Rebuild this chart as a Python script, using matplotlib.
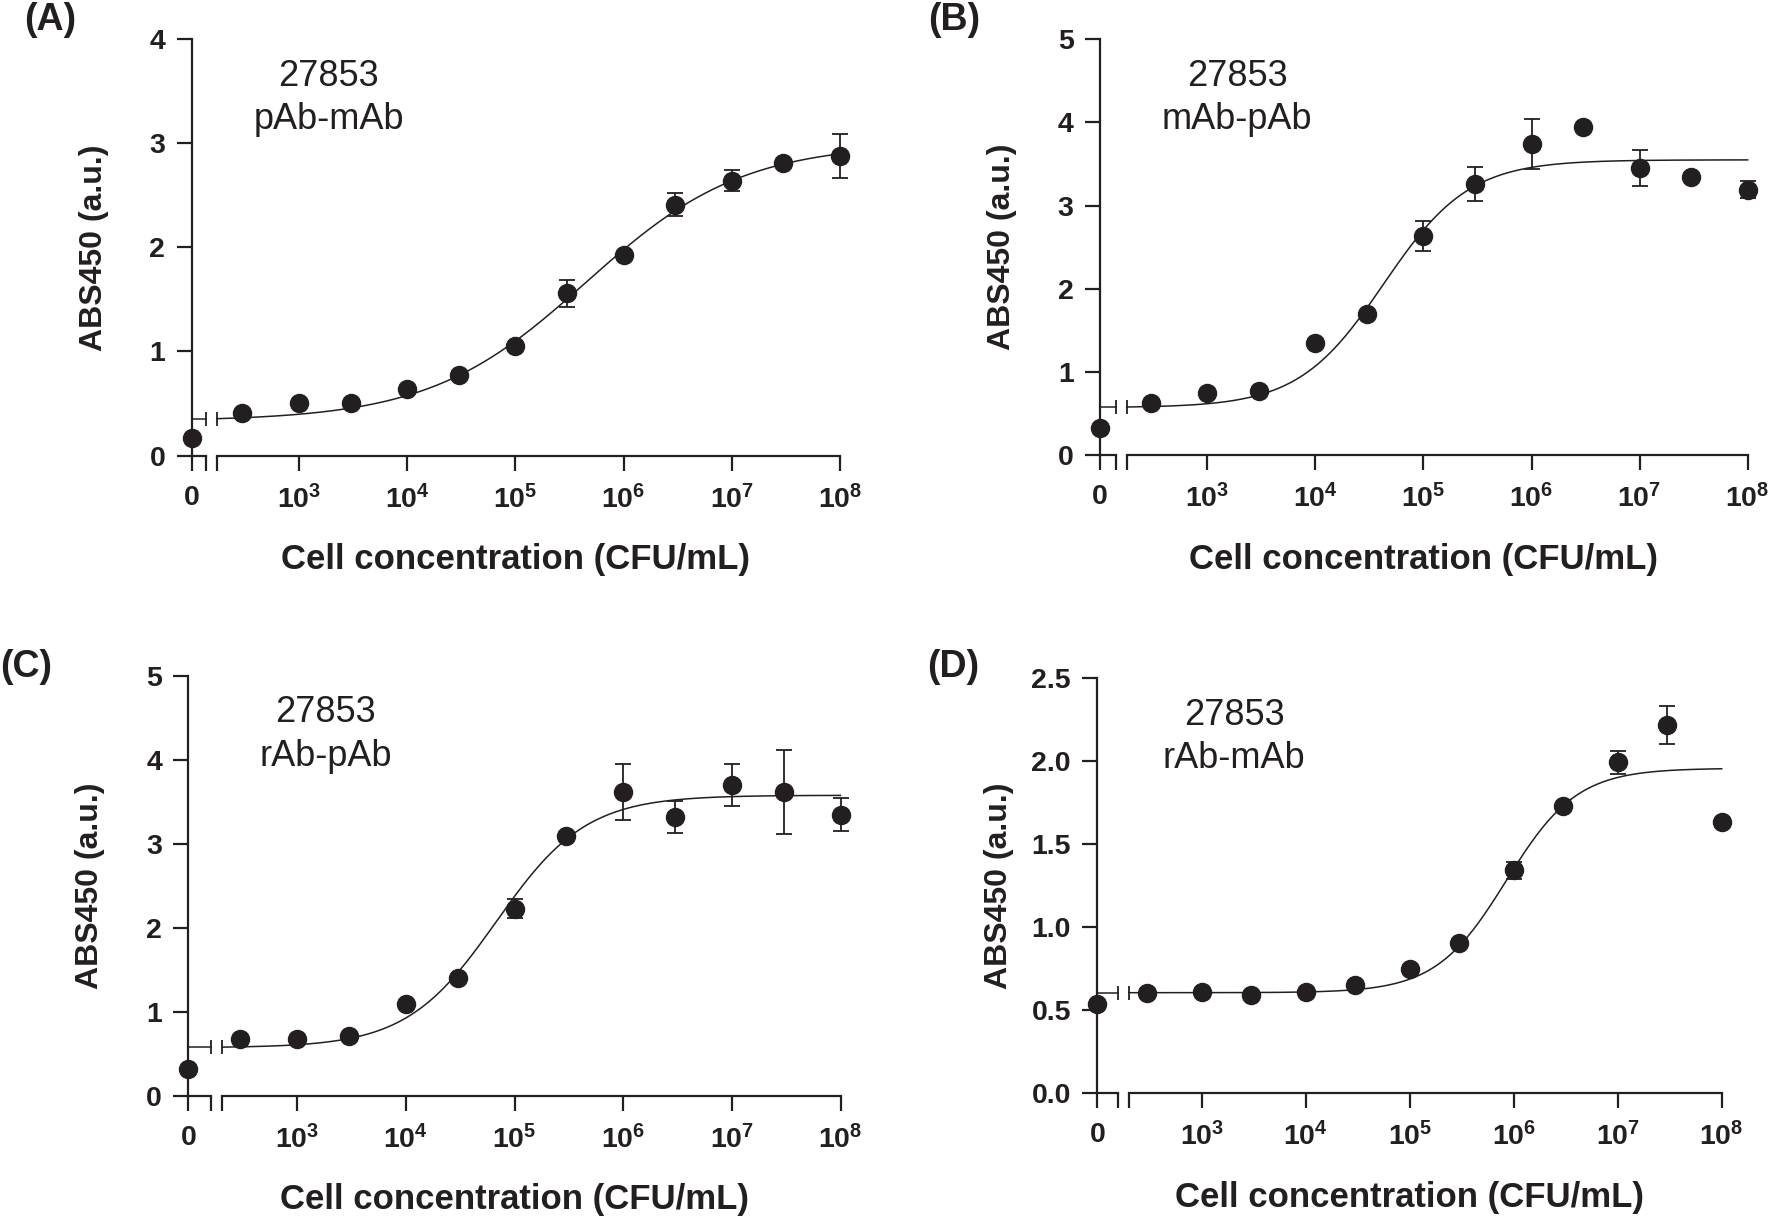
import numpy as np
import matplotlib
matplotlib.use("Agg")
import matplotlib.pyplot as plt
from matplotlib.ticker import NullLocator

plt.rcParams["font.family"] = ["Liberation Sans", "DejaVu Sans"]
plt.rcParams["mathtext.fontset"] = "custom"
plt.rcParams["mathtext.rm"] = "Liberation Sans:bold"
plt.rcParams["mathtext.it"] = "Liberation Sans:bold"
plt.rcParams["mathtext.bf"] = "Liberation Sans:bold"

W, H = 1776, 1216
INK = "#231f20"

# cell concentrations (CFU/mL) of the log-axis points; the blank (0) is kept apart
conc = [3e2, 1e3, 3e3, 1e4, 3e4, 1e5, 3e5, 1e6, 3e6, 1e7, 3e7, 1e8]
xtick_exp = [3, 4, 5, 6, 7, 8]

# (A) pAb-mAb
a_blank = 0.17
a_abs = [0.41, 0.50, 0.50, 0.64, 0.77, 1.05, 1.56, 1.93, 2.41, 2.64, 2.81, 2.88]
a_err = [0, 0, 0, 0, 0, 0, 0.13, 0, 0.11, 0.10, 0, 0.21]
a_fit = (0.33, 3.00, 4.5e5, 0.60)  # bottom, top, EC50, hill slope

# (B) mAb-pAb
b_blank = 0.33
b_abs = [0.63, 0.75, 0.77, 1.35, 1.69, 2.63, 3.26, 3.74, 3.94, 3.45, 3.34, 3.19]
b_err = [0, 0, 0, 0, 0, 0.18, 0.20, 0.30, 0, 0.22, 0, 0.10]
b_fit = (0.57, 3.55, 4.3e4, 1.10)

# (C) rAb-pAb
c_blank = 0.32
c_abs = [0.68, 0.68, 0.71, 1.10, 1.41, 2.23, 3.10, 3.62, 3.32, 3.70, 3.62, 3.35]
c_err = [0, 0, 0, 0, 0, 0.11, 0, 0.33, 0.19, 0.25, 0.50, 0.20]
c_fit = (0.575, 3.58, 6.8e4, 1.05)

# (D) rAb-mAb
d_blank = 0.54
d_abs = [0.606, 0.612, 0.592, 0.608, 0.652, 0.749, 0.904, 1.343, 1.731, 1.994, 2.219, 1.632]
d_err = [0, 0, 0, 0, 0, 0, 0, 0.053, 0, 0.07, 0.114, 0]
d_fit = (0.606, 1.958, 8.5e5, 1.28)

panels = [
    dict(tag="(A)", name="pAb-mAb", blank=a_blank, y=a_abs, err=a_err, fit=a_fit,
         yticks=[0, 1, 2, 3, 4], fmt="{:d}",
         px=(191.7, 206, 216.7, 840, 39.3, 455.5), lo=2.239, tagxy=(24, 20)),
    dict(tag="(B)", name="mAb-pAb", blank=b_blank, y=b_abs, err=b_err, fit=b_fit,
         yticks=[0, 1, 2, 3, 4, 5], fmt="{:d}",
         px=(1100, 1116, 1126.7, 1747.7, 39.3, 455), lo=2.255, tagxy=(928, 20)),
    dict(tag="(C)", name="rAb-pAb", blank=c_blank, y=c_abs, err=c_err, fit=c_fit,
         yticks=[0, 1, 2, 3, 4, 5], fmt="{:d}",
         px=(188.3, 211, 222.3, 840.5, 676, 1096), lo=2.31, tagxy=(0, 667)),
    dict(tag="(D)", name="rAb-mAb", blank=d_blank, y=d_abs, err=d_err, fit=d_fit,
         yticks=[0.0, 0.5, 1.0, 1.5, 2.0, 2.5], fmt="{:.1f}",
         px=(1097.3, 1118.3, 1129, 1721.7, 678.3, 1093.3), lo=2.30, tagxy=(927, 667)),
]


def hill(x, bottom, top, ec50, slope):
    return bottom + (top - bottom) / (1 + (ec50 / x) ** slope)


def add_ax(fig, x0, x1, ytop, ybot):
    return fig.add_axes([x0 / W, 1 - ybot / H, (x1 - x0) / W, (ybot - ytop) / H])


fig = plt.figure(figsize=(W / 100, H / 100), dpi=100)

for p in panels:
    yx, brk, seg, right, top, bot = p["px"]
    ymax = p["yticks"][-1]

    # short segment holding the blank (0 CFU/mL)
    ax0 = add_ax(fig, yx, brk, top, bot)
    # log segment
    ax1 = add_ax(fig, seg, right, top, bot)

    for ax in (ax0, ax1):
        ax.set_ylim(0, ymax)
        ax.patch.set_visible(False)
        for s in ("top", "right"):
            ax.spines[s].set_visible(False)
        for s in ("left", "bottom"):
            ax.spines[s].set_linewidth(1.6)
            ax.spines[s].set_color(INK)
        ax.tick_params(direction="out", length=11, width=1.6, color=INK,
                       labelsize=20.5, labelcolor=INK)
        ax.tick_params(axis="x", pad=10)
        ax.tick_params(axis="y", pad=8)

    ax0.set_xlim(0, 1)
    ax0.set_xticks([0, 1])
    ax0.set_xticklabels(["0", ""], fontweight="bold")
    ax0.set_yticks(p["yticks"])
    ax0.set_yticklabels([p["fmt"].format(v) for v in p["yticks"]], fontweight="bold")

    ax1.set_xscale("log")
    ax1.set_xlim(10 ** p["lo"], 1e8)
    ax1.spines["left"].set_visible(False)
    ax1.tick_params(axis="y", left=False, labelleft=False)
    ax1.set_xticks([10 ** p["lo"]] + [10.0 ** e for e in xtick_exp])
    ax1.set_xticklabels([""] + ["$10^{%d}$" % e for e in xtick_exp])
    ax1.xaxis.set_minor_locator(NullLocator())

    # fitted curve, broken at the axis break
    xs = np.logspace(p["lo"], 8, 400)
    fy = hill(xs, *p["fit"])
    ax1.plot(xs, fy, color=INK, lw=1.1, clip_on=False)
    ax1.plot([xs[0]], [fy[0]], marker="|", ms=10, mew=1.3, color=INK, clip_on=False)
    ax0.plot([0, 1], [fy[0], fy[0]], color=INK, lw=1.1, clip_on=False)
    ax0.plot([1], [fy[0]], marker="|", ms=10, mew=1.3, color=INK, clip_on=False)

    # data points with error bars
    ax1.errorbar(conc, p["y"], yerr=p["err"], fmt="none", ecolor=INK, elinewidth=1.3,
                 capsize=6, capthick=1.3, clip_on=False, zorder=3)
    ax1.plot(conc, p["y"], "o", ms=13, color=INK, clip_on=False, zorder=5)
    ax0.plot([0], [p["blank"]], "o", ms=13, color=INK, clip_on=False, zorder=5)

    # texts
    tx = yx + 137
    fig.text(tx / W, 1 - (top + 37) / H, "27853", ha="center", va="center",
             fontsize=26, color=INK)
    fig.text(tx / W, 1 - (top + 80) / H, p["name"], ha="center", va="center",
             fontsize=26, color=INK)
    fig.text((yx - 98) / W, 1 - (top + bot) / 2 / H, "ABS450 (a.u.)", rotation=90,
             ha="center", va="center", fontsize=23, fontweight="bold", color=INK)
    fig.text((yx + right) / 2 / W, 1 - (bot + 104) / H, "Cell concentration (CFU/mL)",
             ha="center", va="center", fontsize=25, fontweight="bold", color=INK)
    fig.text(p["tagxy"][0] / W, 1 - p["tagxy"][1] / H, p["tag"], ha="left", va="center",
             fontsize=27, fontweight="bold", color=INK)

fig.savefig("out.png", dpi=100)
